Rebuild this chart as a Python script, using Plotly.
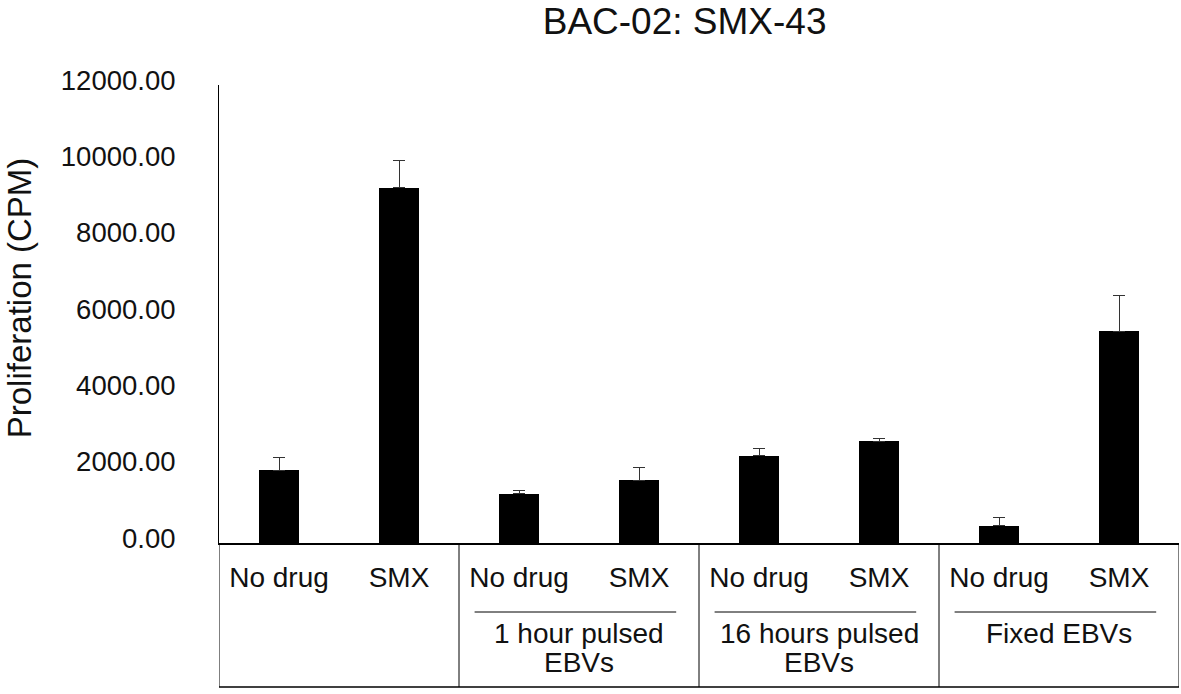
import plotly.graph_objects as go

# Data
conditions = ["No drug", "SMX", "No drug", "SMX", "No drug", "SMX", "No drug", "SMX"]
proliferation = [1910, 9310, 1290, 1650, 2290, 2670, 450, 5550]
error_up = [320, 700, 80, 340, 185, 75, 210, 930]
group_lines = [["1 hour pulsed", "EBVs"], ["16 hours pulsed", "EBVs"], ["Fixed EBVs"]]
group_centers = [2.5, 4.5, 6.5]
dividers = [-0.5, 1.5, 3.5, 5.5, 7.5]
y_ticks = [0, 2000, 4000, 6000, 8000, 10000, 12000]

FONT = "Liberation Sans, Arial, sans-serif"
TXT = "#111111"
positions = list(range(len(conditions)))

fig = go.Figure()
fig.add_trace(go.Bar(
    x=positions,
    y=proliferation,
    width=0.33,
    marker=dict(color="black", line=dict(width=0)),
    error_y=dict(type="data", array=error_up, arrayminus=[0] * len(error_up),
                 symmetric=False, color="#333333", thickness=1, width=6),
    showlegend=False,
))

plot_h = 458.0
def py(pix):
    return -(pix - 543) / plot_h

table_bottom = py(687)
underline_y = py(612)
line_ys = [py(633), py(662)]

shapes = []
for d in dividers:
    shapes.append(dict(type="line", xref="x", yref="paper", x0=d, x1=d, y0=0, y1=table_bottom,
                       line=dict(color="black", width=1)))
shapes.append(dict(type="line", xref="x", yref="paper", x0=-0.5, x1=7.5, y0=table_bottom, y1=table_bottom,
                   line=dict(color="black", width=1.5)))
for c in group_centers:
    shapes.append(dict(type="line", xref="x", yref="paper", x0=c - 0.87, x1=c + 0.81,
                       y0=underline_y, y1=underline_y, line=dict(color="black", width=1)))

annotations = []
for c, lines in zip(group_centers, group_lines):
    for i, lab in enumerate(lines):
        annotations.append(dict(x=c, y=line_ys[i], xref="x", yref="paper", text=lab, showarrow=False,
                                font=dict(family=FONT, size=28, color=TXT),
                                xanchor="center", yanchor="middle", align="center"))
annotations.append(dict(x=-0.207, y=0.535, xref="paper", yref="paper", text="Proliferation (CPM)",
                        textangle=-90, showarrow=False,
                        font=dict(family=FONT, size=33, color=TXT),
                        xanchor="center", yanchor="middle"))

fig.update_layout(
    width=1181, height=694,
    margin=dict(l=219, r=2, t=85, b=151),
    paper_bgcolor="white", plot_bgcolor="white",
    font=dict(family=FONT, color=TXT),
    title=dict(text="BAC-02: SMX-43", x=0.485, xref="paper", xanchor="center",
               y=1 - 21 / 694, yref="container", yanchor="middle",
               font=dict(family=FONT, size=37, color=TXT)),
    shapes=shapes,
    annotations=annotations,
    bargap=0,
)
fig.update_xaxes(
    range=[-0.5, 7.5], tickvals=positions, ticktext=conditions,
    showline=True, linecolor="black", linewidth=1.5, ticks="", showgrid=False,
    zeroline=False, ticklabelstandoff=9,
    tickfont=dict(family=FONT, size=28, color=TXT),
)
fig.update_yaxes(
    range=[0, 12000], tickvals=y_ticks, tickformat=".2f",
    showline=True, linecolor="black", linewidth=1, ticks="", showgrid=False,
    zeroline=False, ticklabelstandoff=37, ticklabelshift=-5,
    tickfont=dict(family=FONT, size=27.5, color=TXT),
)

fig.write_html("out.html", config={"displayModeBar": False},
               post_script="document.body.style.margin='0px';")
